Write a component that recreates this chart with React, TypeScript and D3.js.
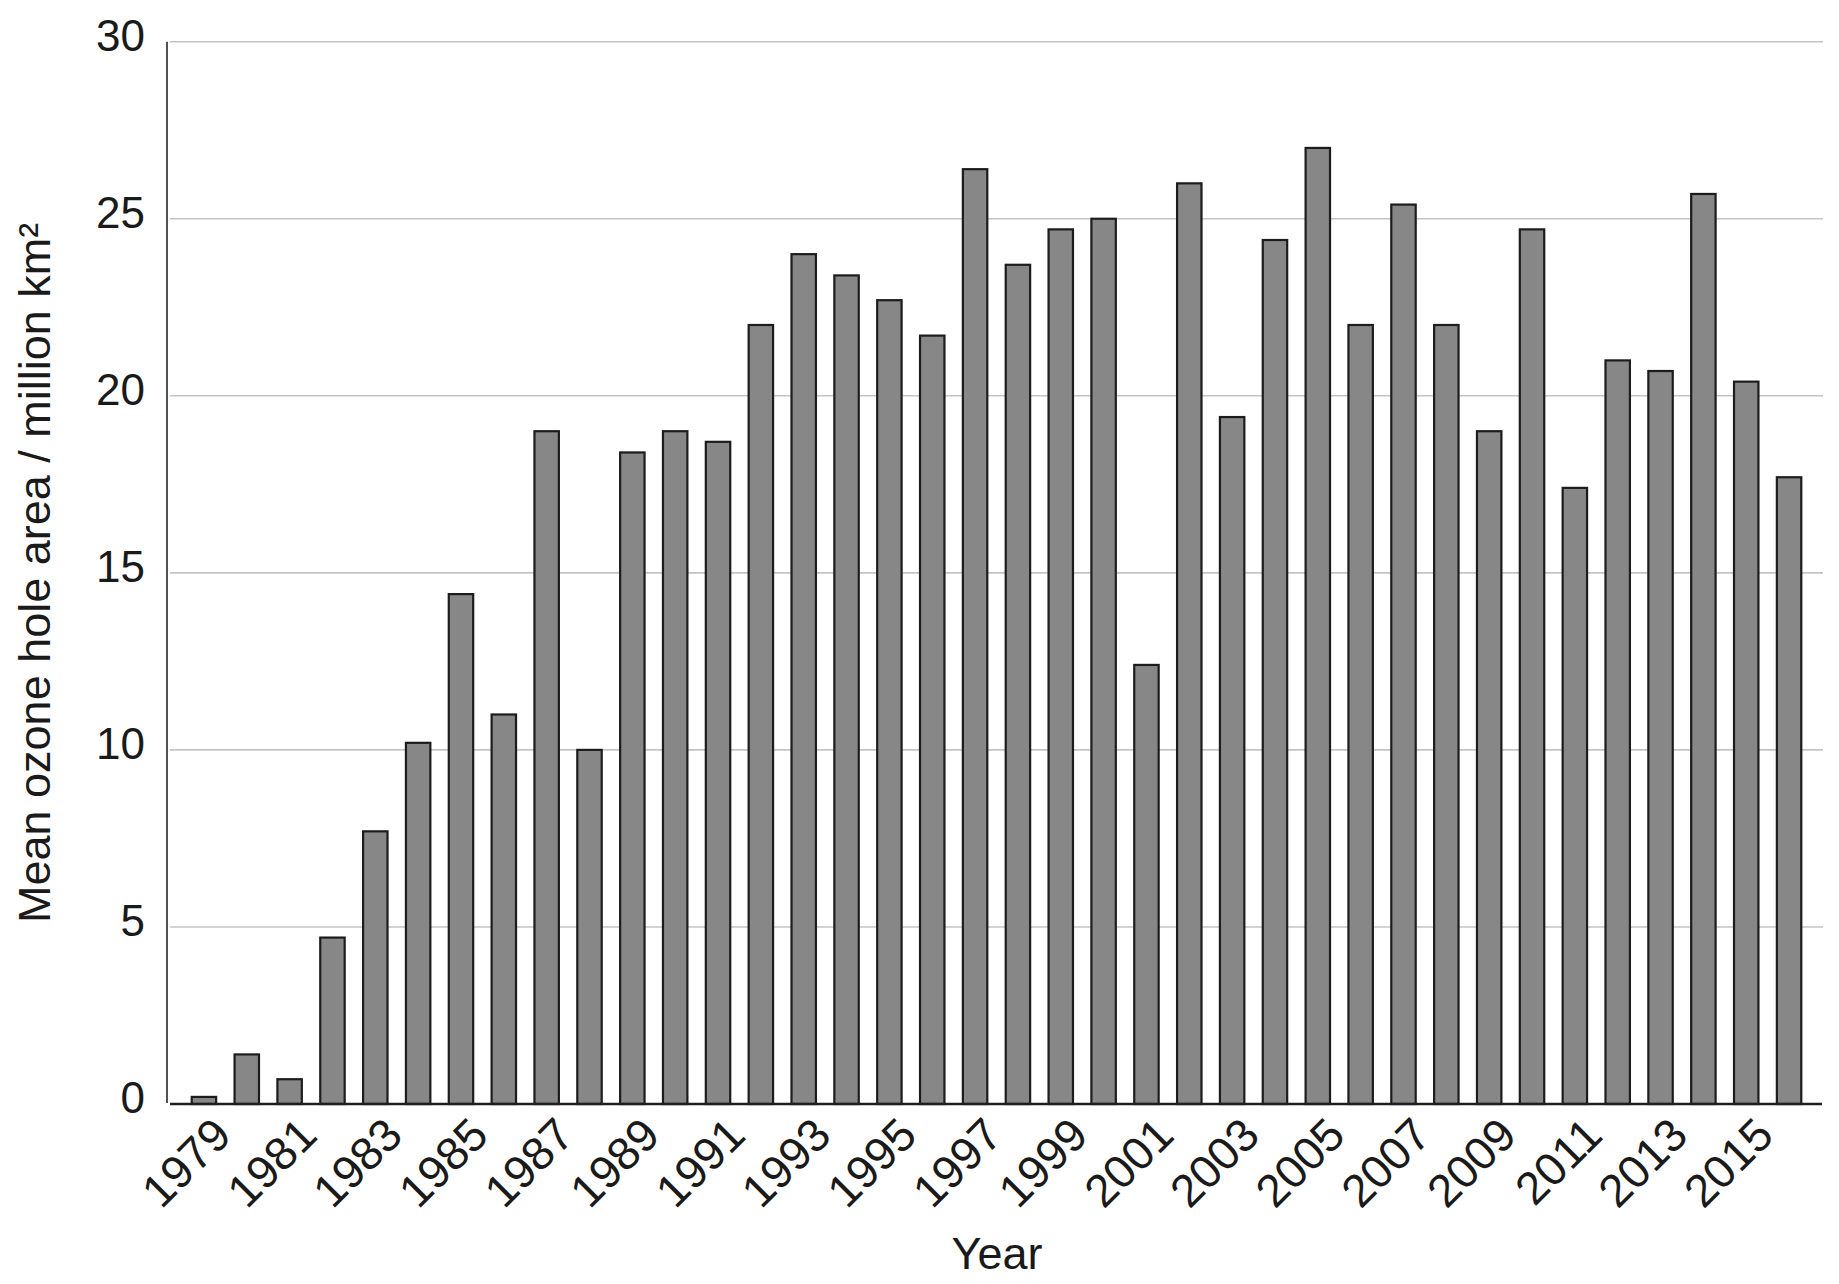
import React, { useEffect, useRef } from 'react';
import * as d3 from 'd3';

const years: string[] = [
  '1979', '1980', '1981', '1982', '1983', '1984', '1985', '1986', '1987', '1988',
  '1989', '1990', '1991', '1992', '1993', '1994', '1995', '1996', '1997', '1998',
  '1999', '2000', '2001', '2002', '2003', '2004', '2005', '2006', '2007', '2008',
  '2009', '2010', '2011', '2012', '2013', '2014', '2015', '2016',
];

// mean ozone hole area, million km2
const areas: number[] = [
  0.2, 1.4, 0.7, 4.7, 7.7, 10.2, 14.4, 11.0, 19.0, 10.0,
  18.4, 19.0, 18.7, 22.0, 24.0, 23.4, 22.7, 21.7, 26.4, 23.7,
  24.7, 25.0, 12.4, 26.0, 19.4, 24.4, 27.0, 22.0, 25.4, 22.0,
  19.0, 24.7, 17.4, 21.0, 20.7, 25.7, 20.4, 17.7,
];

const yTicks: number[] = [0, 5, 10, 15, 20, 25, 30];

const xTickLabels: string[] = [
  '1979', '1981', '1983', '1985', '1987', '1989', '1991', '1993', '1995', '1997',
  '1999', '2001', '2003', '2005', '2007', '2009', '2011', '2013', '2015',
];

const W = 1839;
const H = 1284;
const FONT = '"Liberation Sans", Arial, Helvetica, sans-serif';

const OzoneChart: React.FC = () => {
  const ref = useRef<SVGSVGElement>(null);

  useEffect(() => {
    if (!ref.current) return;
    const svg = d3.select(ref.current).attr('width', W).attr('height', H);
    svg.selectAll('*').remove();

    const left = 167;
    const right = 1823;
    const top = 41.7;
    const bottom = 1104;

    const x = d3.scaleBand<string>()
      .domain(years)
      .range([left, 1826])
      .paddingInner(0.43)
      .paddingOuter(0.577);

    const y = d3.scaleLinear().domain([0, 30]).range([bottom, top]);

    const data = years.map((yr, i) => ({ year: yr, value: areas[i] }));

    // gridlines
    svg.append('g')
      .selectAll('line')
      .data(yTicks.filter((t) => t > 0))
      .join('line')
      .attr('x1', 170)
      .attr('x2', right)
      .attr('y1', (d) => y(d))
      .attr('y2', (d) => y(d))
      .attr('stroke', '#c4c4c4')
      .attr('stroke-width', 1.6);

    // y tick labels
    svg.append('g')
      .selectAll('text')
      .data(yTicks)
      .join('text')
      .attr('x', 145)
      .attr('y', (d) => y(d) + 9)
      .attr('text-anchor', 'end')
      .attr('font-family', FONT)
      .attr('font-size', 44)
      .attr('fill', '#1a1a1a')
      .text((d) => String(d));

    // bars
    svg.append('g')
      .selectAll('rect')
      .data(data)
      .join('rect')
      .attr('x', (d) => x(d.year) as number)
      .attr('width', x.bandwidth())
      .attr('y', (d) => y(d.value))
      .attr('height', (d) => bottom - y(d.value))
      .attr('fill', '#878787')
      .attr('stroke', '#1c1c1c')
      .attr('stroke-width', 2.2);

    // axes lines
    svg.append('line')
      .attr('x1', left)
      .attr('x2', left)
      .attr('y1', top)
      .attr('y2', bottom - 1)
      .attr('stroke', '#333')
      .attr('stroke-width', 1.7);

    svg.append('line')
      .attr('x1', 170)
      .attr('x2', 1822)
      .attr('y1', bottom)
      .attr('y2', bottom)
      .attr('stroke', '#1f1f1f')
      .attr('stroke-width', 2.6);

    // x tick labels, rotated
    svg.append('g')
      .selectAll('text')
      .data(xTickLabels)
      .join('text')
      .attr('transform', (d) => {
        const cx = (x(d) as number) + x.bandwidth() / 2 + 7;
        return `translate(${cx},1115) rotate(-45)`;
      })
      .attr('y', 32)
      .attr('text-anchor', 'end')
      .attr('font-family', FONT)
      .attr('font-size', 46)
      .attr('fill', '#1a1a1a')
      .text((d) => d);

    // axis titles
    svg.append('text')
      .attr('x', (left + right) / 2 + 2)
      .attr('y', 1269)
      .attr('text-anchor', 'middle')
      .attr('font-family', FONT)
      .attr('font-size', 45)
      .attr('fill', '#1a1a1a')
      .text('Year');

    svg.append('text')
      .attr('transform', `translate(50,${(top + bottom) / 2}) rotate(-90)`)
      .attr('text-anchor', 'middle')
      .attr('font-family', FONT)
      .attr('font-size', 45)
      .attr('fill', '#1a1a1a')
      .text('Mean ozone hole area / million km²');
  }, []);

  return <svg ref={ref} style={{ position: 'absolute', left: 0, top: 0, background: '#fff' }}></svg>;
};

export default function App() {
  return <OzoneChart />;
}
